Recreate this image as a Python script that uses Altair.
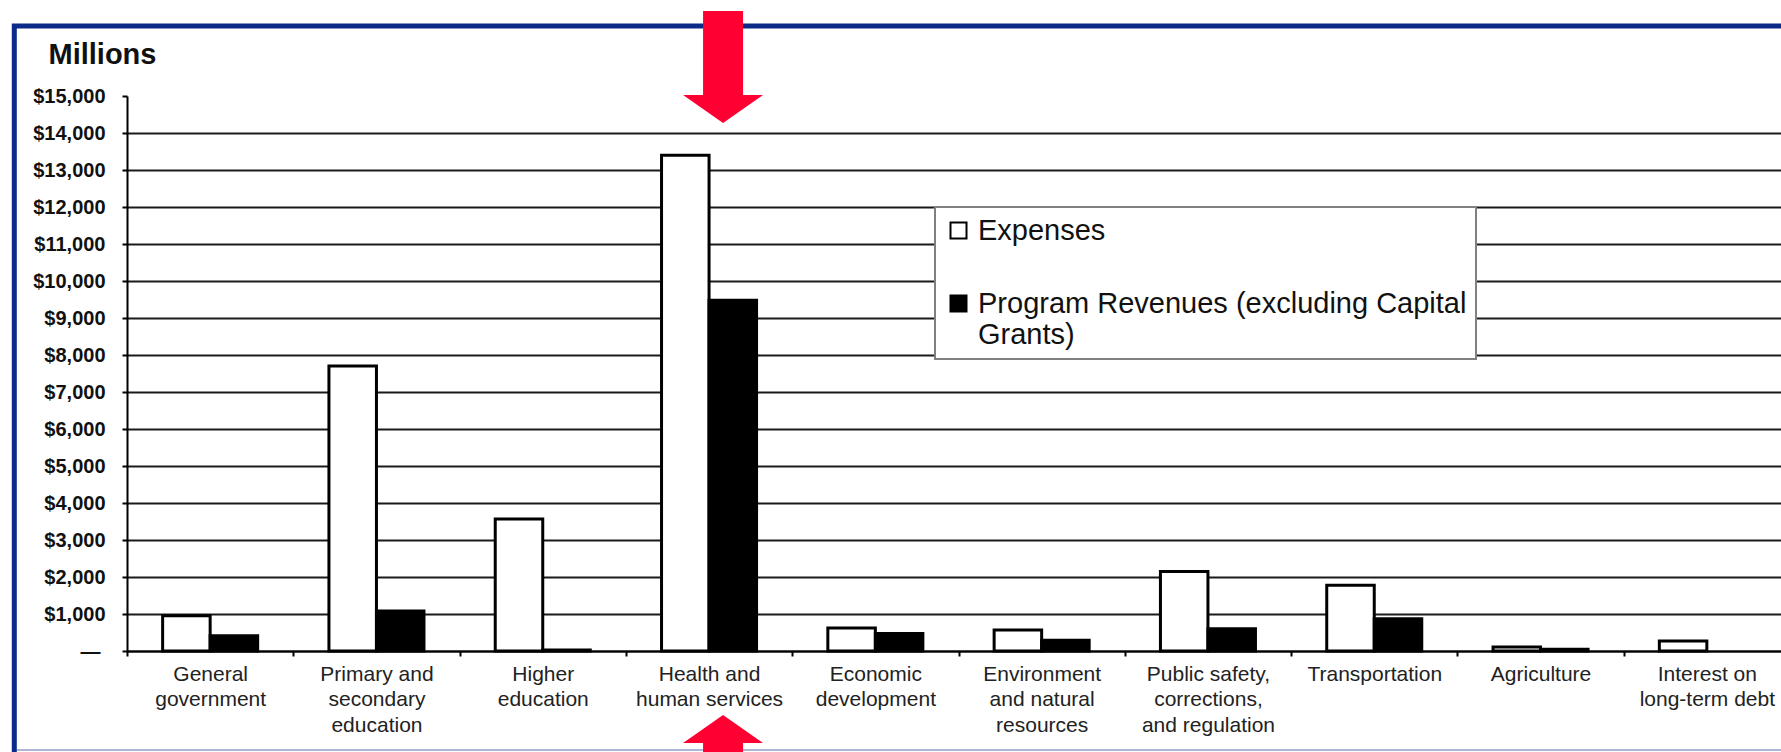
import altair as alt
import pandas as pd

# ---- data ----
categories = [
    "General\ngovernment",
    "Primary and\nsecondary\neducation",
    "Higher\neducation",
    "Health and\nhuman services",
    "Economic\ndevelopment",
    "Environment\nand natural\nresources",
    "Public safety,\ncorrections,\nand regulation",
    "Transportation",
    "Agriculture",
    "Interest on\nlong-term debt",
]
expenses = [950, 7700, 3570, 13400, 620, 570, 2150, 1780, 110, 270]
revenues = [410, 1080, 30, 9480, 470, 290, 600, 870, 50, 0]
series = ["Expenses", "Program Revenues (excluding Capital Grants)"]
y_ticks = list(range(0, 16000, 1000))
highlight = categories[3]

rows = []
for c, e, r in zip(categories, expenses, revenues):
    rows.append({"category": c, "series": series[0], "value": e})
    rows.append({"category": c, "series": series[1], "value": r})
df = pd.DataFrame(rows)

FONT = "Liberation Sans"
W, H = 1654, 555

x_enc = alt.X(
    "category:N",
    sort=categories,
    scale=alt.Scale(domain=categories, range=[0, 1663], paddingInner=0, paddingOuter=0),
    axis=alt.Axis(
        title=None,
        labelAngle=0,
        labelExpr="split(datum.label, '\\n')",
        labelFont=FONT,
        labelFontSize=21,
        labelColor="#222222",
        labelLineHeight=25.5,
        labelBaseline="top",
        labelPadding=7,
        labelLimit=400,
        labelOverlap=False,
        tickBand="extent",
        tickSize=5,
        tickWidth=2,
        tickColor="black",
        domainColor="black",
        domainWidth=2,
        grid=False,
    ),
)

bars = alt.Chart(df).transform_filter("datum.value > 0").mark_bar(
    stroke="black", strokeWidth=3, strokeJoin="miter"
).encode(
    x=x_enc,
    xOffset=alt.XOffset(
        "series:N", sort=series,
        scale=alt.Scale(domain=series, paddingInner=0, paddingOuter=0.75),
    ),
    y=alt.Y(
        "value:Q",
        scale=alt.Scale(domain=[0, 15000], nice=False),
        axis=alt.Axis(
            values=y_ticks,
            labelExpr="datum.value == 0 ? '\u2014' : '$' + format(datum.value, ',')",
            labelFont=FONT,
            labelFontSize=20,
            labelFontWeight="bold",
            labelColor="#111111",
            labelPadding={"condition": {"test": "datum.value == 0", "value": 22}, "value": 17},
            tickSize=5,
            tickWidth=2,
            tickColor="black",
            domainColor="black",
            domainWidth=2,
            grid=True,
            gridColor="#1a1a1a",
            gridWidth=2,
            gridOpacity={"condition": {"test": "datum.value == 15000", "value": 0}, "value": 1},
            title="Millions",
            titleAngle=0,
            titleX=-79,
            titleY=-33,
            titleAlign="left",
            titleBaseline="alphabetic",
            titleFont=FONT,
            titleFontSize=29,
            titleFontWeight="bold",
            titleColor="#111111",
        ),
    ),
    fill=alt.Fill(
        "series:N", sort=series,
        scale=alt.Scale(domain=series, range=["white", "black"]),
        legend=alt.Legend(
            orient="none",
            legendX=808,
            legendY=111,
            title=None,
            direction="vertical",
            fillColor="white",
            strokeColor="#808080",
            padding=9,
            symbolType="square",
            symbolSize=256,
            symbolStrokeColor="black",
            symbolStrokeWidth=2,
            labelFont=FONT,
            labelFontSize=29,
            labelColor="#111111",
            labelLimit=900,
            labelOffset=5,
            rowPadding=43,
            labelExpr=(
                "datum.label == 'Program Revenues (excluding Capital Grants)' ? "
                "['Program Revenues (excluding Capital', 'Grants)'] : datum.label"
            ),
        ),
    ),
)

frame = alt.Chart(pd.DataFrame({"k": [0]})).mark_rect(
    fillOpacity=0, stroke="#0c2a88", strokeWidth=5
).encode(
    x=alt.value(-112.7), x2=alt.value(1750), y=alt.value(-70), y2=alt.value(760)
)

bottom_line = alt.Chart(pd.DataFrame({"k": [0]})).mark_rule(
    stroke="#aeb6d6", strokeWidth=2
).encode(x=alt.value(-110), x2=alt.value(1750), y=alt.value(654))

arrow_down = "M-0.357,-1L0.357,-1L0.357,0.5L0.714,0.5L0,1L-0.714,0.5L-0.357,0.5Z"
arrow_up = "M-0.357,1L0.357,1L0.357,-0.5L0.714,-0.5L0,-1L-0.714,-0.5L-0.357,-0.5Z"
ann = pd.DataFrame({"category": [highlight]})

down = alt.Chart(ann).mark_point(
    shape=arrow_down, size=112 * 112, filled=True, color="#ff0033", opacity=1, strokeWidth=0, xOffset=14
).encode(x=alt.X("category:N", sort=categories), y=alt.value(-29))

up = alt.Chart(ann).mark_point(
    shape=arrow_up, size=112 * 112, filled=True, color="#ff0033", opacity=1, strokeWidth=0, xOffset=14
).encode(x=alt.X("category:N", sort=categories), y=alt.value(675))

chart = alt.layer(frame, bars, bottom_line, down, up).properties(
    width=W,
    height=H,
    padding={"left": 127, "top": 96, "right": 0, "bottom": 101},
    autosize=alt.AutoSizeParams(type="none"),
).configure(background="white").configure_view(strokeWidth=0).configure_legend(strokeWidth=2)

chart.save("out.html", embed_options={"renderer": "svg", "actions": False})
